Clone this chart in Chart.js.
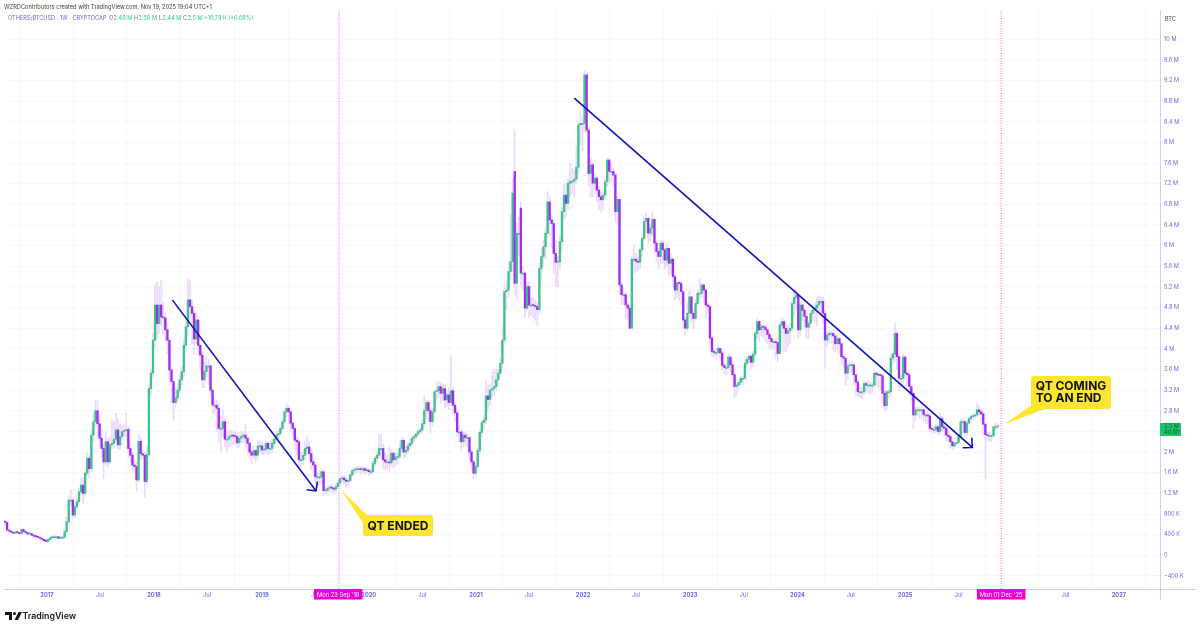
<!DOCTYPE html>
<html>
<head>
<meta charset="utf-8">
<title>OTHERS/BTCUSD</title>
<script src="https://cdn.jsdelivr.net/npm/chart.js@4/dist/chart.umd.min.js"></script>
<style>
  html, body { margin: 0; padding: 0; background: #ffffff; }
  canvas { display: block; }
</style>
</head>
<body>
<canvas id="grafica" width="1200" height="628"></canvas>
<script>
// Weekly candles, in millions (one entry per week)
const opens = [
.66,.64,.49,.47,.45,.43,.45,.44,.42,.50,
.46,.44,.41,.42,.39,.37,.36,.35,.33,.31,
.28,.27,.31,.34,.36,.36,.36,.33,.35,.35,
.46,.65,1.07,1.07,.78,.94,1.04,1.23,1.36,1.2,
1.59,1.88,1.68,2.33,2.59,2.8,2.55,2.27,2.07,1.81,
2.2,1.81,2.14,2.17,2.25,2.43,2.14,2.3,2.4,2.42,
2.44,2.07,1.94,1.75,1.72,1.46,2.21,1.97,1.94,1.43,
1.95,3.23,3.53,4.17,4.85,4.49,4.85,4.62,4.6,4.37,
4.17,3.59,3.37,2.96,3.05,3.2,3.4,3.56,4.07,4.43,
4.95,4.82,4.69,4.19,4.56,4.07,3.88,3.4,3.56,3.67,
3.67,3.2,2.91,2.91,2.85,2.46,2.46,2.59,2.25,2.25,
2.3,2.33,2.31,2.3,2.18,2.27,2.31,2.33,2.27,2.17,
2.0,1.94,2.03,1.94,2.12,2.12,2.04,2.05,2.17,2.07,
2.07,2.17,2.25,2.33,2.36,2.46,2.59,2.78,2.85,2.78,
2.56,2.46,2.23,2.2,1.85,1.85,1.94,2.07,2.1,1.97,
1.81,1.75,1.52,1.52,1.52,1.62,1.25,1.26,1.3,1.32,
1.3,1.28,1.33,1.4,1.48,1.5,1.46,1.43,1.45,1.56,
1.64,1.66,1.68,1.68,1.66,1.68,1.64,1.65,1.62,1.62,
1.78,1.88,1.94,2.07,2.07,1.85,1.81,1.81,1.79,1.98,
1.85,1.91,1.91,2.07,2.23,2.0,2.03,2.12,2.17,2.27,
2.3,2.35,2.4,2.43,2.55,2.81,2.96,2.8,2.59,2.78,
3.17,3.19,3.27,3.14,3.23,3.01,3.11,2.96,3.19,2.91,
2.76,2.39,2.39,2.2,2.33,2.28,2.28,2.0,1.81,1.59,
1.72,2.03,2.38,2.57,2.62,3.09,3.02,3.2,3.23,3.27,
3.4,3.53,3.72,4.17,5.11,5.14,5.5,5.69,7.44,5.27,
6.24,6.73,5.47,5.47,4.79,5.21,4.85,4.85,4.84,4.82,
4.76,5.56,5.79,5.98,6.24,6.85,6.5,6.43,5.85,5.68,
5.69,6.08,6.66,6.98,6.82,7.21,7.25,7.25,7.29,7.52,
8.34,8.37,8.37,9.31,8.24,7.4,7.57,7.21,7.31,7.08,
6.95,6.89,6.98,7.24,7.66,7.44,7.44,7.37,6.66,6.9,
5.24,5.05,5.05,4.85,4.79,4.4,5.74,5.74,5.7,5.68,
5.92,6.14,6.47,6.53,6.24,6.34,6.51,6.05,5.89,5.79,
6.05,5.92,5.72,5.95,5.66,5.74,5.4,5.14,5.28,5.27,
5.11,4.56,4.4,4.69,5.01,4.69,4.59,4.88,5.08,5.08,
5.24,5.14,4.85,4.82,4.21,3.95,3.93,3.93,4.01,3.92,
3.68,3.64,3.64,3.84,3.69,3.5,3.27,3.3,3.35,3.43,
3.43,3.72,3.8,3.86,3.74,3.9,4.3,4.53,4.37,4.43,
4.42,4.37,4.28,4.2,4.14,4.14,4.12,3.91,4.46,4.53,
4.4,4.3,4.35,4.4,4.88,5.0,5.04,4.37,4.85,4.75,
4.63,4.42,4.5,4.69,4.75,4.79,4.85,4.92,4.92,4.69,
4.17,4.27,4.3,4.3,4.25,4.1,4.2,4.1,3.85,3.82,
3.53,3.67,3.68,3.69,3.5,3.36,3.17,3.17,3.17,3.33,
3.3,3.3,3.3,3.3,3.53,3.5,3.49,3.48,3.14,2.9,
3.17,3.17,3.82,3.9,4.3,3.85,3.43,3.43,3.84,3.53,
3.5,3.27,3.14,2.72,2.82,2.82,2.82,2.82,2.72,2.72,
2.7,2.46,2.44,2.44,2.49,2.4,2.65,2.49,2.46,2.33,
2.3,2.2,2.12,2.17,2.19,2.3,2.59,2.59,2.38,2.56,
2.65,2.69,2.7,2.72,2.82,2.78,2.74,2.54,2.34,2.32,
2.32,2.32,2.49,2.49];

const closes = [
.64,.49,.47,.45,.43,.45,.44,.42,.50,.46,
.44,.41,.42,.39,.37,.36,.35,.33,.31,.28,
.27,.31,.34,.36,.36,.36,.33,.35,.35,.46,
.65,1.07,1.07,.78,.94,1.04,1.23,1.36,1.2,1.59,
1.88,1.68,2.33,2.59,2.8,2.55,2.27,2.07,1.81,2.2,
1.81,2.14,2.17,2.25,2.43,2.14,2.3,2.4,2.42,2.44,
2.07,1.94,1.75,1.72,1.46,2.21,1.97,1.94,1.43,1.95,
3.23,3.53,4.17,4.85,4.49,4.85,4.62,4.6,4.37,4.17,
3.59,3.37,2.96,3.05,3.2,3.4,3.56,4.07,4.43,4.95,
4.82,4.69,4.19,4.56,4.07,3.88,3.4,3.56,3.67,3.67,
3.2,2.91,2.91,2.85,2.46,2.46,2.59,2.25,2.25,2.3,
2.33,2.31,2.3,2.18,2.27,2.31,2.33,2.27,2.17,2.0,
1.94,2.03,1.94,2.12,2.12,2.04,2.05,2.17,2.07,2.07,
2.17,2.25,2.33,2.36,2.46,2.59,2.78,2.85,2.78,2.56,
2.46,2.23,2.2,1.85,1.85,1.94,2.07,2.1,1.97,1.81,
1.75,1.52,1.52,1.52,1.62,1.25,1.26,1.3,1.32,1.3,
1.28,1.33,1.4,1.48,1.5,1.46,1.43,1.45,1.56,1.64,
1.66,1.68,1.68,1.66,1.68,1.64,1.65,1.62,1.62,1.78,
1.88,1.94,2.07,2.07,1.85,1.81,1.81,1.79,1.98,1.85,
1.91,1.91,2.07,2.23,2.0,2.03,2.12,2.17,2.27,2.3,
2.35,2.4,2.43,2.55,2.81,2.96,2.8,2.59,2.78,3.17,
3.19,3.27,3.14,3.23,3.01,3.11,2.96,3.19,2.91,2.76,
2.39,2.39,2.2,2.33,2.28,2.28,2.0,1.81,1.59,1.72,
2.03,2.38,2.57,2.62,3.09,3.02,3.2,3.23,3.27,3.4,
3.53,3.72,4.17,5.11,5.14,5.5,5.69,7.02,5.27,6.24,
6.24,5.47,5.47,4.79,5.21,4.85,4.85,4.84,4.82,4.76,
5.56,5.79,5.98,6.24,6.85,6.5,6.43,5.85,5.68,5.69,
6.08,6.66,6.98,6.82,7.21,7.25,7.25,7.29,7.52,8.34,
8.37,8.37,9.31,8.24,7.4,7.57,7.21,7.31,7.08,6.95,
6.89,6.98,7.24,7.66,7.44,7.44,7.37,6.66,6.9,5.24,
5.05,5.05,4.85,4.79,4.4,5.74,5.74,5.7,5.68,5.92,
6.14,6.47,6.53,6.24,6.34,6.51,6.05,5.89,5.79,6.05,
5.92,5.72,5.95,5.66,5.74,5.4,5.14,5.28,5.27,5.11,
4.56,4.4,4.69,5.01,4.69,4.59,4.88,5.08,5.08,5.24,
5.14,4.85,4.82,4.21,3.95,3.93,3.93,4.01,3.92,3.68,
3.64,3.64,3.84,3.69,3.5,3.27,3.3,3.35,3.43,3.43,
3.72,3.8,3.86,3.74,3.9,4.3,4.53,4.37,4.43,4.42,
4.37,4.28,4.2,4.14,4.14,4.12,3.91,4.46,4.53,4.4,
4.3,4.35,4.4,4.88,5.0,5.04,4.37,4.85,4.75,4.63,
4.42,4.5,4.69,4.75,4.79,4.85,4.92,4.92,4.69,4.17,
4.27,4.3,4.3,4.25,4.1,4.2,4.1,3.85,3.82,3.53,
3.67,3.68,3.69,3.5,3.36,3.17,3.17,3.17,3.33,3.3,
3.3,3.3,3.3,3.53,3.5,3.49,3.48,3.14,2.9,3.17,
3.17,3.82,3.9,4.3,3.85,3.43,3.43,3.84,3.53,3.5,
3.27,3.14,2.72,2.82,2.82,2.82,2.82,2.72,2.72,2.7,
2.46,2.44,2.44,2.49,2.4,2.65,2.49,2.46,2.33,2.3,
2.2,2.12,2.17,2.19,2.3,2.59,2.59,2.38,2.56,2.65,
2.69,2.7,2.72,2.82,2.78,2.74,2.54,2.34,2.32,2.32,
2.32,2.49,2.49,2.5];

const highs = [
.68,.64,.49,.47,.45,.47,.46,.44,.52,.50,
.46,.44,.44,.42,.39,.38,.37,.35,.33,.31,
.30,.33,.36,.38,.38,.38,.37,.37,.37,.50,
.75,1.15,1.28,1.1,1.0,1.1,1.3,1.5,1.5,1.65,
2.0,1.95,2.45,2.75,3.0,3.0,2.7,2.45,2.15,2.4,
2.25,2.3,2.65,2.6,2.75,2.65,2.55,2.5,2.55,2.75,
2.5,2.2,2.0,1.85,1.8,2.35,2.3,2.05,2.0,2.1,
3.3,3.6,4.3,5.25,5.3,5.2,5.33,4.9,4.7,4.5,
4.1,3.65,3.3,3.25,3.3,3.5,3.65,4.2,4.6,5.35,
5.3,4.95,4.75,4.7,4.6,4.1,3.95,3.75,3.85,3.8,
3.7,3.25,3.0,3.0,2.95,2.7,2.82,2.65,2.4,2.42,
2.42,2.4,2.4,2.35,2.35,2.4,2.38,2.55,2.3,2.2,
2.05,2.12,2.05,2.2,2.22,2.2,2.15,2.22,2.2,2.2,
2.25,2.32,2.4,2.42,2.52,2.65,2.85,2.93,2.9,2.8,
2.6,2.5,2.3,2.25,2.0,2.05,2.2,2.3,2.2,2.05,
1.85,1.8,1.6,1.65,1.68,1.65,1.32,1.35,1.36,1.36,
1.33,1.38,1.45,1.52,1.55,1.55,1.48,1.5,1.6,1.68,
1.7,1.72,1.73,1.72,1.72,1.7,1.7,1.68,1.67,1.82,
1.92,2.0,2.35,2.35,2.15,2.0,1.95,2.1,2.05,2.02,
2.0,1.98,2.2,2.3,2.26,2.1,2.18,2.25,2.32,2.35,
2.4,2.45,2.48,2.62,3.1,3.0,3.0,2.85,2.85,3.2,
3.35,3.37,3.35,3.32,3.3,3.2,3.25,3.85,3.25,2.95,
2.8,2.5,2.45,2.4,2.4,2.35,2.3,2.05,1.85,1.78,
2.08,2.45,2.62,2.7,3.4,3.3,3.3,3.55,3.6,3.6,
3.6,3.85,4.45,5.25,5.3,5.7,6.6,7.3,8.25,6.45,
6.55,6.85,5.6,5.5,5.3,5.3,5.0,5.0,4.95,4.9,
5.65,5.95,6.1,6.35,7.05,6.95,6.6,6.5,6.1,5.8,
6.2,6.75,7.2,7.2,7.3,7.6,7.5,7.45,7.95,8.4,
8.6,8.5,9.4,9.35,8.3,7.7,7.6,7.4,7.35,7.15,
7.05,7.05,7.3,7.7,7.7,7.6,7.5,7.4,6.95,6.9,
5.3,5.2,5.1,4.9,4.85,5.8,6.0,5.85,5.8,5.95,
6.2,6.55,6.65,6.55,6.4,6.65,6.55,6.1,5.95,6.1,
6.1,5.95,6.05,5.95,5.85,5.75,5.45,5.32,5.32,5.3,
5.1,4.6,4.9,5.15,5.0,4.75,4.95,5.15,5.35,5.28,
5.25,5.15,4.9,4.85,4.25,4.0,4.0,4.05,4.0,3.95,
3.72,3.72,3.9,3.87,3.75,3.55,3.33,3.4,3.47,3.48,
3.78,3.85,3.9,3.87,3.95,4.35,4.58,4.55,4.48,4.47,
4.45,4.4,4.32,4.25,4.18,4.2,4.15,4.5,4.6,4.58,
4.5,4.45,4.5,4.95,5.1,5.15,5.05,4.92,4.9,4.78,
4.65,4.55,4.75,4.85,4.9,5.0,5.03,5.0,5.0,4.75,
4.32,4.36,4.35,4.38,4.28,4.25,4.22,4.12,3.9,3.85,
3.72,3.75,3.75,3.72,3.45,3.4,3.25,3.25,3.38,3.37,
3.38,3.36,3.35,3.58,3.56,3.52,3.52,3.5,3.2,3.2,
3.22,3.88,3.95,4.5,4.35,3.9,3.5,3.9,3.88,3.55,
3.53,3.25,3.15,2.88,2.88,2.86,2.88,2.84,2.78,2.78,
2.75,2.5,2.5,2.54,2.52,2.75,2.7,2.52,2.5,2.4,
2.35,2.2,2.2,2.22,2.33,2.63,2.65,2.62,2.6,2.68,
2.72,2.74,2.76,2.94,2.9,2.82,2.78,2.56,2.4,2.38,
2.36,2.52,2.56,2.56];

const lows = [
.58,.46,.45,.43,.41,.42,.42,.40,.41,.44,
.42,.39,.39,.37,.35,.34,.33,.31,.28,.26,
.25,.27,.30,.33,.34,.33,.31,.32,.32,.33,
.44,.62,.95,.72,.74,.92,1.0,1.18,1.0,1.15,
1.55,1.5,1.62,2.2,2.5,2.3,2.1,1.9,1.48,1.75,
1.7,1.78,2.05,2.08,2.2,2.05,2.05,2.25,2.3,2.3,
1.9,1.8,1.65,1.6,1.25,1.42,1.85,1.88,1.13,1.4,
1.9,3.1,3.45,4.05,4.2,4.3,4.45,4.3,4.15,3.9,
3.3,2.95,2.62,2.85,3.0,3.15,3.3,3.45,3.95,4.25,
4.6,4.1,3.9,4.1,3.9,3.6,3.25,3.25,3.45,3.3,
3.1,2.75,2.75,2.4,2.2,2.0,2.3,2.1,2.0,2.1,
2.12,2.15,2.15,2.08,2.1,2.18,2.18,2.1,1.98,1.88,
1.78,1.88,1.82,1.88,1.98,1.95,1.95,1.98,1.95,1.98,
2.0,2.12,2.22,2.27,2.33,2.42,2.55,2.68,2.55,2.4,
2.3,2.05,1.95,1.7,1.72,1.75,1.85,1.98,1.85,1.65,
1.6,1.4,1.35,1.35,1.4,1.15,1.18,1.2,1.22,1.22,
1.2,1.23,1.3,1.36,1.42,1.38,1.32,1.36,1.42,1.52,
1.58,1.6,1.6,1.58,1.6,1.56,1.58,1.55,1.56,1.58,
1.72,1.82,1.88,1.88,1.68,1.65,1.68,1.62,1.72,1.7,
1.72,1.76,1.85,2.0,1.88,1.9,1.98,2.05,2.12,2.2,
2.25,2.3,2.35,2.38,2.5,2.65,2.6,2.35,2.5,2.75,
3.0,3.05,2.95,3.0,2.85,2.88,2.82,2.9,2.75,2.6,
2.3,2.2,2.05,2.1,2.12,2.1,1.85,1.65,1.49,1.52,
1.68,1.95,2.28,2.45,2.55,2.8,2.9,3.05,3.1,3.18,
3.3,3.45,3.65,4.1,4.75,5.0,5.35,5.5,5.05,4.95,
5.8,5.25,5.15,4.6,4.75,4.6,4.65,4.6,4.55,4.45,
4.7,5.35,5.6,5.75,6.15,6.2,5.95,5.45,5.2,5.2,
5.55,5.9,6.5,6.55,6.7,6.95,7.0,6.95,7.2,7.4,
7.95,7.85,8.2,8.2,7.15,6.95,6.95,7.0,6.85,6.7,
6.65,6.7,6.9,7.15,7.2,7.25,7.15,6.45,6.4,5.05,
4.85,4.85,4.6,4.55,4.38,4.45,5.45,5.5,5.5,5.55,
5.8,6.1,6.25,6.05,6.1,6.2,5.85,5.7,5.55,5.65,
5.65,5.55,5.6,5.4,5.45,5.2,4.95,5.0,4.95,4.85,
4.4,4.25,4.35,4.6,4.5,4.4,4.55,4.85,4.95,5.0,
4.9,4.6,4.7,4.05,3.85,3.85,3.82,3.87,3.78,3.6,
3.52,3.5,3.6,3.55,3.4,3.05,3.1,3.22,3.3,3.3,
3.4,3.65,3.72,3.62,3.65,3.85,4.2,4.15,4.25,4.22,
4.15,4.1,4.0,4.0,3.98,3.82,3.75,3.9,4.25,3.95,
3.95,4.05,4.1,4.35,4.65,4.75,4.2,4.25,4.55,4.38,
4.2,4.2,4.4,4.55,4.5,4.45,4.72,4.7,4.5,3.62,
4.05,4.12,4.15,4.0,3.95,3.98,3.92,3.7,3.65,3.3,
3.4,3.55,3.55,3.3,3.1,3.08,3.05,3.03,3.12,3.15,
3.15,3.12,3.15,3.25,3.3,3.25,3.2,2.95,2.8,2.82,
3.05,3.1,3.7,3.75,3.6,3.2,3.25,3.35,3.4,3.3,
3.1,2.95,2.45,2.62,2.7,2.65,2.65,2.6,2.55,2.55,
2.4,2.38,2.36,2.38,2.35,2.35,2.42,2.32,2.22,2.2,
2.08,2.05,2.08,2.12,2.15,2.25,2.38,2.32,2.33,2.52,
2.6,2.62,2.66,2.68,2.72,2.6,2.35,1.48,2.22,2.2,
2.18,2.28,2.42,2.44];

// Axis ticks: x positions count weeks from the first candle
const timeTicks = [20.4,46.2,72.5,98.3,125,150.8,177,203,229.2,255,281.3,307,333.4,359.5,385.6,411.5,438,464,490,516,542];
const timeLabels = ['2017','Jul','2018','Jul','2019','Jul','2020','Jul','2021','Jul','2022','Jul','2023','Jul','2024','Jul','2025','Jul','2026','Jul','2027'];
const priceTicks = [-0.4,0,0.4,0.8,1.2,1.6,2,2.4,2.8,3.2,3.6,4,4.4,4.8,5.2,5.6,6,6.4,6.8,7.2,7.6,8,8.4,8.8,9.2,9.6,10];
const priceLabels = ['−400 K','0','400 K','800 K','1.2 M','1.6 M','2 M','2.4 M','2.8 M','3.2 M','3.6 M','4 M','4.4 M','4.8 M','5.2 M','5.6 M','6 M','6.4 M','6.8 M','7.2 M','7.6 M','8 M','8.4 M','8.8 M','9.2 M','9.6 M','10 M'];

// Drawn trend lines and markers
const trendOneWeeks = [81.4,151.3];
const trendOneValues = [4.95,1.25];
const arrowOneWeeks = [146.8,151.3,152];
const arrowOneValues = [1.27,1.25,1.43];
const trendTwoWeeks = [277,470.7];
const trendTwoValues = [8.86,2.09];
const arrowTwoWeeks = [466,470.7,470.4];
const arrowTwoValues = [2.085,2.09,2.28];
const markerWeeks = [162.5,484.7];
const axisMin = -0.653;
const axisMax = 10.568;

const weeks = opens.map((_, i) => i);
const FONT = 'Inter, "Noto Sans", sans-serif';

function puntos(xs, ys) {
    return xs.map((x, i) => ({ x: x, y: ys[i] }));
}

function lineaTendencia(xs, ys) {
    return {
        type: 'line',
        data: puntos(xs, ys),
        borderColor: '#1212bc',
        borderWidth: 1.6,
        pointRadius: 0,
        tension: 0,
        order: 1
    };
}

function lineaMarcador(week) {
    return {
        type: 'line',
        data: [{ x: week, y: axisMin }, { x: week, y: axisMax }],
        borderColor: '#e860e0',
        borderWidth: 1,
        borderDash: [1, 1.5],
        pointRadius: 0,
        order: 2
    };
}

function caja(ctx, x, y, w, h, r) {
    ctx.beginPath();
    ctx.roundRect(x, y, w, h, r);
    ctx.fill();
}

function poligono(ctx, pts) {
    ctx.beginPath();
    pts.forEach((p, i) => i ? ctx.lineTo(p[0], p[1]) : ctx.moveTo(p[0], p[1]));
    ctx.closePath();
    ctx.fill();
}

// Axis frame, header, callouts, date tags and logo
const overlay = {
    id: 'overlay',
    afterDraw(chart) {
        const ctx = chart.ctx;
        const { left, right, top, bottom } = chart.chartArea;
        ctx.save();

        ctx.strokeStyle = '#cfcdf3';
        ctx.lineWidth = 1;
        ctx.beginPath();
        ctx.moveTo(left, bottom + 0.5);
        ctx.lineTo(1196, bottom + 0.5);
        ctx.moveTo(right + 0.5, top);
        ctx.lineTo(right + 0.5, 600);
        ctx.stroke();

        ctx.textBaseline = 'middle';
        ctx.textAlign = 'left';
        ctx.font = '5.7px ' + FONT;
        ctx.fillStyle = '#3a3a44';
        ctx.fillText('WZRDContributors created with TradingView.com, Nov 19, 2025 19:04 UTC+1', 4, 6.8);

        const blue = '#6c66e4';
        const green = '#2fc98a';
        const legend = [
            ['OTHERS/BTCUSD · 1W · CRYPTOCAP', blue, 8], ['O', blue, 109], ['2.49 M', green, 113.5],
            ['H', blue, 134], ['2.56 M', green, 138.5], ['L', blue, 159], ['2.44 M', green, 162.5],
            ['C', blue, 183], ['2.5 M', green, 187.5], ['+16.79 K (+0.68%)', green, 204]
        ];
        ctx.font = '5.6px ' + FONT;
        legend.forEach(t => {
            ctx.fillStyle = t[1];
            ctx.fillText(t[0], t[2], 18.8);
        });

        ctx.fillStyle = '#44444f';
        ctx.font = '5.5px ' + FONT;
        ctx.fillText('BTC', 1165, 19);

        // Price tag on the axis
        ctx.fillStyle = '#1fc46e';
        ctx.fillRect(1160, 423, 21, 13);
        ctx.fillStyle = '#0b5a34';
        ctx.font = '5.5px ' + FONT;
        ctx.fillText('2.5 M', 1164, 426.5);
        ctx.fillText('4d 6h', 1164, 432.5);

        // Date tags over the time axis
        ctx.textAlign = 'center';
        [[314, "Mon 23 Sep '19"], [977, "Mon 01 Dec '25"]].forEach(t => {
            ctx.fillStyle = '#ee00d8';
            ctx.fillRect(t[0], 589, 48.5, 10.5);
            ctx.fillStyle = '#ffffff';
            ctx.font = '5.8px ' + FONT;
            ctx.fillText(t[1], t[0] + 24.2, 594.8);
        });

        // Yellow callouts
        ctx.fillStyle = '#fde62f';
        poligono(ctx, [[341, 490], [367, 515], [363, 523]]);
        caja(ctx, 363, 515, 70, 21, 2.5);
        poligono(ctx, [[1004, 424.5], [1032, 405], [1046, 408.5]]);
        caja(ctx, 1031, 376, 80, 33, 2.5);
        ctx.fillStyle = '#111111';
        ctx.font = '700 12px ' + FONT;
        ctx.fillText('QT ENDED', 398, 526);
        ctx.textAlign = 'left';
        ctx.fillText('QT COMING', 1035.7, 386.2);
        ctx.fillText('TO AN END', 1035.7, 398.2);

        // TradingView logo
        ctx.fillStyle = '#131722';
        ctx.fillRect(5, 612, 7, 3);
        ctx.fillRect(9, 615, 3, 5);
        ctx.beginPath();
        ctx.arc(14.5, 613.5, 1.5, 0, Math.PI * 2);
        ctx.fill();
        poligono(ctx, [[14.5, 620], [18.5, 612], [22, 612], [18, 620]]);
        ctx.font = '600 8.8px ' + FONT;
        ctx.fillText('TradingView', 22.5, 616.3);

        ctx.restore();
    }
};

new Chart(document.getElementById('grafica').getContext('2d'), {
    type: 'bar',
    data: {
        datasets: [
            {
                data: puntos(weeks, weeks.map(i => [lows[i], highs[i]])),
                backgroundColor: '#ecd9fa',
                barThickness: 1,
                order: 4
            },
            {
                data: puntos(weeks, weeks.map(i => [opens[i], closes[i]])),
                backgroundColor: weeks.map(i => closes[i] >= opens[i] ? 'rgba(44,190,130,0.9)' : 'rgba(150,28,238,0.9)'),
                barThickness: 1.7,
                minBarLength: 1,
                order: 3
            },
            lineaMarcador(markerWeeks[0]),
            lineaMarcador(markerWeeks[1]),
            lineaTendencia(trendOneWeeks, trendOneValues),
            lineaTendencia(arrowOneWeeks, arrowOneValues),
            lineaTendencia(trendTwoWeeks, trendTwoValues),
            lineaTendencia(arrowTwoWeeks, arrowTwoValues)
        ]
    },
    options: {
        responsive: false,
        animation: false,
        layout: { padding: { left: 4, top: 10, right: 0, bottom: 28 } },
        plugins: { legend: { display: false }, tooltip: { enabled: false } },
        datasets: { bar: { grouped: false } },
        scales: {
            x: {
                type: 'linear',
                offset: false,
                min: -0.5,
                max: 562,
                border: { display: false },
                grid: { color: '#f8f6fe', drawTicks: false },
                afterBuildTicks(scale) {
                    scale.ticks = timeTicks.map(v => ({ value: v }));
                },
                afterFit(scale) {
                    scale.height = 11;
                },
                ticks: {
                    autoSkip: false,
                    maxRotation: 0,
                    padding: 3,
                    color: '#6c66e4',
                    font: c => ({ family: FONT, size: 5.7, weight: /^\d/.test(timeLabels[c.index] || '') ? '700' : '400' }),
                    callback: (v, i) => timeLabels[i]
                }
            },
            y: {
                position: 'right',
                min: axisMin,
                max: axisMax,
                border: { display: false },
                grid: { color: '#f8f6fe', drawTicks: false },
                afterBuildTicks(scale) {
                    scale.ticks = priceTicks.map(v => ({ value: v }));
                },
                afterFit(scale) {
                    scale.width = 40;
                },
                ticks: {
                    autoSkip: false,
                    padding: 4,
                    color: '#6c66e4',
                    font: { family: FONT, size: 5.6 },
                    callback: (v, i) => priceLabels[i]
                }
            }
        }
    },
    plugins: [overlay]
});
</script>
</body>
</html>
